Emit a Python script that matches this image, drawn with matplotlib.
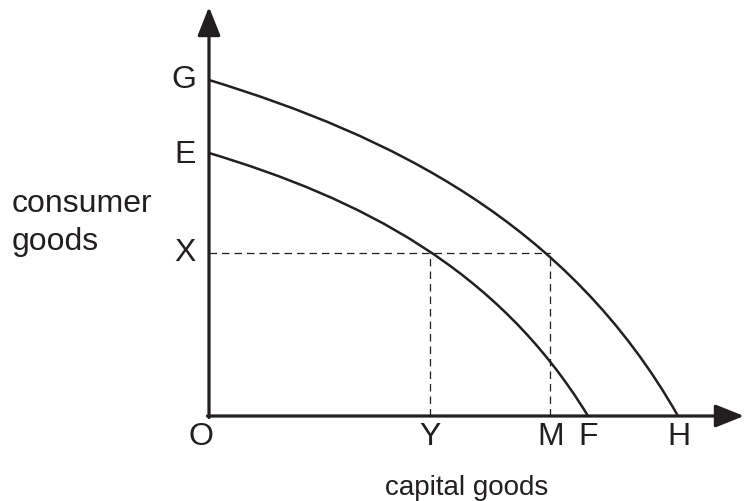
import matplotlib.pyplot as plt
from matplotlib.path import Path
from matplotlib.patches import PathPatch

# curve end points and bezier control points
# (pixel offsets from the origin O)
outer_x = [0, 180, 359, 469]
outer_y = [336, 281, 194, 0]
inner_x = [0, 150, 289, 379]
inner_y = [263, 218, 148, 0]

x_level = 163            # height of X
y_pos, m_pos = 221, 341  # positions of Y and M
x_labels = {'Y': 221, 'M': 342, 'F': 379, 'H': 470}
y_labels = {'G': 336, 'E': 261, 'X': 163}

ink = '#231f20'
fs = 23

fig = plt.figure(figsize=(7.44, 5.01), dpi=100)
ax = fig.add_axes([0, 0, 1, 1])
ax.set_xlim(-209, 744 - 209)
ax.set_ylim(416 - 501, 416)
ax.axis('off')

# axes with arrow heads
arrow = dict(arrowstyle='-|>,head_length=1.25,head_width=0.5', lw=2.3,
             color=ink, shrinkA=0, shrinkB=0, mutation_scale=14)
ax.annotate('', xy=(0, 409), xytext=(0, -1.5), arrowprops=arrow)
ax.annotate('', xy=(535, 0), xytext=(-1.5, 0), arrowprops=arrow)

# production possibility curves
codes = [Path.MOVETO, Path.CURVE4, Path.CURVE4, Path.CURVE4]
for cx, cy in [(outer_x, outer_y), (inner_x, inner_y)]:
    path = Path(list(zip(cx, cy)), codes)
    ax.add_patch(PathPatch(path, facecolor='none', edgecolor=ink, lw=1.8))

# dashed guides
dash = dict(color=ink, lw=0.9, linestyle=(0, (6, 4)))
ax.plot([0, m_pos], [x_level, x_level], **dash)
ax.plot([y_pos, y_pos], [0, x_level], **dash)
ax.plot([m_pos, m_pos], [0, x_level], **dash)

font = dict(color=ink, family=['Liberation Sans', 'DejaVu Sans'])
for lab, yv in y_labels.items():
    ax.text(-13, yv, lab, ha='right', va='center', fontsize=fs, **font)
ax.text(-8, -21, 'O', ha='center', va='center', fontsize=fs, **font)
for lab, xv in x_labels.items():
    ax.text(xv, -21, lab, ha='center', va='center', fontsize=fs, **font)

ax.text(-197, 193, 'consumer\ngoods', ha='left', va='center', linespacing=1.35,
        fontsize=fs, **font)
ax.text(258, -72, 'capital goods', ha='center', va='center', fontsize=20, **font)

fig.savefig('out.png', dpi=100)
